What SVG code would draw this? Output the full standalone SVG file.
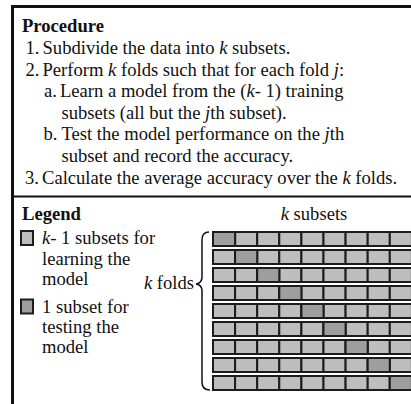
<svg xmlns="http://www.w3.org/2000/svg" width="411" height="404" viewBox="0 0 411 404">
<style>
text{font-family:"Liberation Serif","Times New Roman",serif;font-size:18.6px;fill:#111}
.b{font-weight:bold}
.i{font-style:italic}
.c{fill:#bebebe;stroke:#1c1c1c;stroke-width:2}
.d{fill:#9e9e9e;stroke:#1c1c1c;stroke-width:2}
.frame{fill:none;stroke:#111;stroke-width:3}
.brace{fill:none;stroke:#111;stroke-width:1.5}
</style>
<rect width="411" height="404" fill="#fff"/>
<g id="frame">
<path class="frame" d="M12.5,404 V6.5 H411"/>
<line x1="12" y1="196.5" x2="411" y2="196.5" stroke="#111" stroke-width="2"/>
</g>
<g id="procedure">
<text class="b" x="22" y="31.5">Procedure</text>
<text y="54"><tspan x="25.5">1.</tspan><tspan x="42.5">Subdivide the data into </tspan><tspan class="i">k</tspan><tspan> subsets.</tspan></text>
<text y="75.6"><tspan x="25.5">2.</tspan><tspan x="42.5">Perform </tspan><tspan class="i">k</tspan><tspan> folds such that for each fold </tspan><tspan class="i">j</tspan><tspan>:</tspan></text>
<text y="97.2"><tspan x="44">a.</tspan><tspan x="60">Learn a model from the (</tspan><tspan class="i">k</tspan><tspan>- 1) training</tspan></text>
<text y="118.8"><tspan x="61.5">subsets (all but the </tspan><tspan class="i">j</tspan><tspan>th subset).</tspan></text>
<text y="140.4"><tspan x="43.5">b.</tspan><tspan x="61.5">Test the model performance on the </tspan><tspan class="i">j</tspan><tspan>th</tspan></text>
<text y="162"><tspan x="61.5">subset and record the accuracy.</tspan></text>
<text y="183.6"><tspan x="25">3.</tspan><tspan x="42">Calculate the average accuracy over the </tspan><tspan class="i">k</tspan><tspan> folds.</tspan></text>
</g>
<g id="legend">
<text class="b" x="22" y="220">Legend</text>
<rect class="c" x="21" y="231" width="12" height="14"/>
<text x="42" y="244"><tspan class="i">k</tspan>- 1 subsets for</text>
<text x="42" y="264.5">learning the</text>
<text x="42" y="284.5">model</text>
<rect class="d" x="21" y="299.5" width="12" height="14"/>
<text x="42" y="313">1 subset for</text>
<text x="42" y="333">testing the</text>
<text x="42" y="353">model</text>
</g>
<g id="labels">
<text x="314" y="220" text-anchor="middle"><tspan class="i">k</tspan> subsets</text>
<text x="194" y="289" text-anchor="end"><tspan class="i">k</tspan> folds</text>
</g>
<g id="connectors">
<path class="brace" d="M209,232 C204.5,232 202,235 202,240 L202,277 C202,281 200,283.5 196,284 C200,284.5 202,287 202,291 L202,382 C202,387 205,390 210,390"/>
</g>
<g id="folds">
<defs>
<g id="row">
<rect class="c" x="213" y="0" width="22.1" height="14"/>
<rect class="c" x="235.1" y="0" width="22.1" height="14"/>
<rect class="c" x="257.2" y="0" width="22.1" height="14"/>
<rect class="c" x="279.3" y="0" width="22.1" height="14"/>
<rect class="c" x="301.4" y="0" width="22.1" height="14"/>
<rect class="c" x="323.5" y="0" width="22.1" height="14"/>
<rect class="c" x="345.6" y="0" width="22.1" height="14"/>
<rect class="c" x="367.7" y="0" width="22.1" height="14"/>
<rect class="c" x="389.8" y="0" width="22.1" height="14"/>
</g>
</defs>
<g id="fold-1" transform="translate(0,232)"><use href="#row"/><rect class="d" x="213" y="0" width="22.1" height="14"/></g>
<g id="fold-2" transform="translate(0,250)"><use href="#row"/><rect class="d" x="235.1" y="0" width="22.1" height="14"/></g>
<g id="fold-3" transform="translate(0,268)"><use href="#row"/><rect class="d" x="257.2" y="0" width="22.1" height="14"/></g>
<g id="fold-4" transform="translate(0,286)"><use href="#row"/><rect class="d" x="279.3" y="0" width="22.1" height="14"/></g>
<g id="fold-5" transform="translate(0,304)"><use href="#row"/><rect class="d" x="301.4" y="0" width="22.1" height="14"/></g>
<g id="fold-6" transform="translate(0,322)"><use href="#row"/><rect class="d" x="323.5" y="0" width="22.1" height="14"/></g>
<g id="fold-7" transform="translate(0,340)"><use href="#row"/><rect class="d" x="345.6" y="0" width="22.1" height="14"/></g>
<g id="fold-8" transform="translate(0,358)"><use href="#row"/><rect class="d" x="367.7" y="0" width="22.1" height="14"/></g>
<g id="fold-9" transform="translate(0,376)"><use href="#row"/><rect class="d" x="389.8" y="0" width="22.1" height="14"/></g>
</g>
</svg>
